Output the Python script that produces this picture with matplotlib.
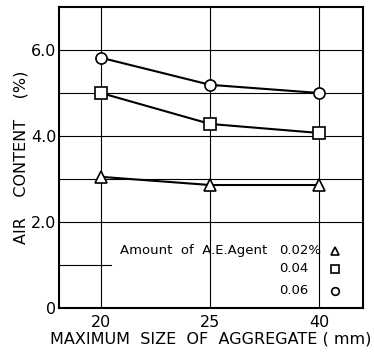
import numpy as np
import matplotlib.pyplot as plt

sizes = ["20", "25", "40"]
air_002 = [3.05, 2.86, 2.86]
air_004 = [5.0, 4.28, 4.07]
air_006 = [5.82, 5.19, 5.0]
agent_labels = ["0.02%", "0.04", "0.06"]
markers = ["^", "s", "o"]

plt.rcParams['font.family'] = 'DejaVu Sans'

fig = plt.figure(figsize=(3.74, 3.53), dpi=100)
ax = fig.add_axes([59/374, 1 - 308/353, 304/374, 301/353])

x = np.arange(len(sizes))
for ys, m in zip([air_002, air_004, air_006], markers):
    ax.plot(x, ys, color='black', lw=1.5, marker=m, ms=8,
            mfc='white', mec='black', mew=1.2, zorder=3)

ax.set_xlim(-0.385, 2.4)
ax.set_ylim(0, 7)

for xi in x:
    ax.axvline(xi, color='black', lw=0.8, zorder=1)
for yv in [2, 3, 4, 5, 6]:
    ax.axhline(yv, color='black', lw=0.8, zorder=1)
ax.axhline(1, xmax=0.17, color='black', lw=0.8, zorder=1)

ax.set_xticks(x)
ax.set_xticklabels(sizes, fontsize=11.5)
ax.set_yticks([0, 2, 4, 6])
ax.set_yticklabels(["0", "2.0", "4.0", "6.0"], fontsize=11.5)
ax.tick_params(length=0)
ax.tick_params(axis='y', pad=2)
ax.tick_params(axis='x', pad=5)
for s in ax.spines.values():
    s.set_linewidth(1.5)

ax.set_xlabel("MAXIMUM  SIZE  OF  AGGREGATE ( mm)", fontsize=11.5, labelpad=1)
ax.set_ylabel("AIR    CONTENT    (%)", fontsize=11.5, labelpad=2)

# legend block: title, labels and markers
ax.text(0.2, 0.19, "Amount  of  A.E.Agent", transform=ax.transAxes,
        fontsize=9.5, va='center', ha='left')
row_y = [0.19, 0.13, 0.058]
for lab, m, ry in zip(agent_labels, markers, row_y):
    ax.text(0.725, ry, lab, transform=ax.transAxes, fontsize=9.5,
            va='center', ha='left')
    ax.plot([0.908], [ry], transform=ax.transAxes, ls='none', marker=m,
            ms=5.5, mfc='white', mec='black', mew=1.2, clip_on=False)

fig.savefig("out.png", dpi=100)
